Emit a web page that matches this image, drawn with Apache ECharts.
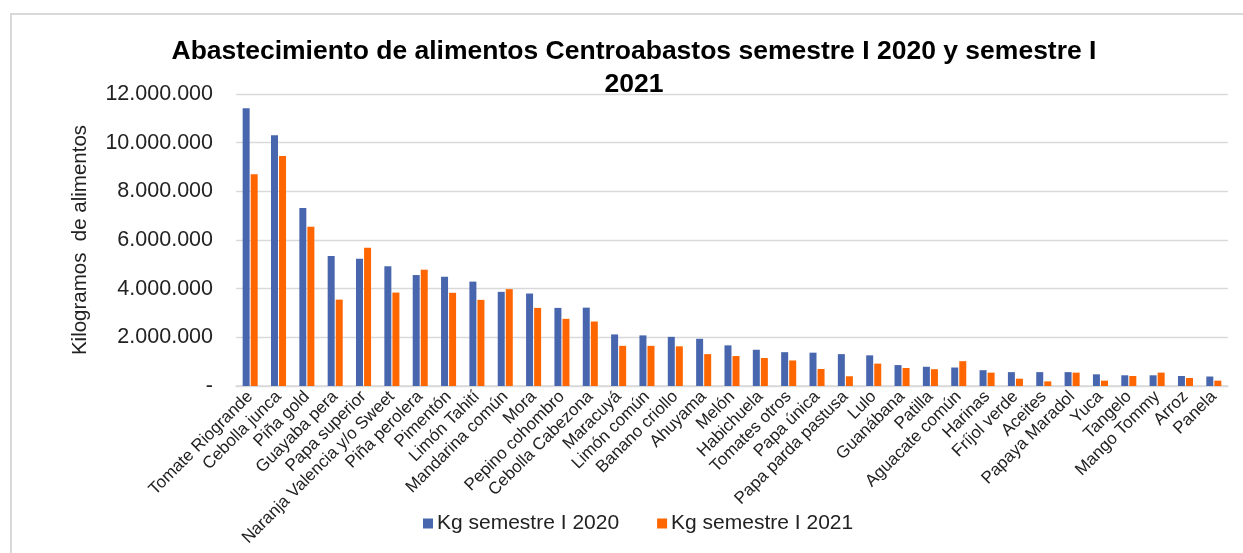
<!DOCTYPE html>
<html>
<head>
<meta charset="utf-8">
<script src="https://cdn.jsdelivr.net/npm/echarts@6/dist/echarts.min.js"></script>
<style>html,body{margin:0;padding:0;background:#fff}#c{width:1243px;height:553px}</style>
</head>
<body>
<div id="c"></div>
<script>
var categories = ["Tomate Riogrande","Cebolla junca","Piña gold","Guayaba pera","Papa superior","Naranja Valencia y/o Sweet","Piña perolera","Pimentón","Limón Tahití","Mandarina común","Mora","Pepino cohombro","Cebolla Cabezona","Maracuyá","Limón común","Banano criollo","Ahuyama","Melón","Habichuela","Tomates otros","Papa única","Papa parda pastusa","Lulo","Guanábana","Patilla","Aguacate común","Harinas","Fríjol verde","Aceites","Papaya Maradol","Yuca","Tangelo","Mango Tommy","Arroz","Panela"];
var kg2020 = [11410000,10300000,7310000,5340000,5230000,4920000,4560000,4490000,4290000,3870000,3800000,3210000,3220000,2120000,2080000,2020000,1940000,1670000,1490000,1390000,1370000,1310000,1260000,860000,790000,760000,650000,570000,570000,570000,480000,440000,440000,410000,390000];
var kg2021 = [8700000,9450000,6540000,3550000,5680000,3840000,4780000,3830000,3540000,3980000,3210000,2760000,2650000,1650000,1650000,1630000,1310000,1230000,1150000,1050000,700000,400000,920000,740000,690000,1020000,550000,300000,190000,550000,220000,410000,550000,330000,220000];
var yTicks = {min: 0, max: 12000000, interval: 2000000};
var seriesNames = ["Kg semestre I 2020", "Kg semestre I 2021"];

function fmt(v){ if (v === 0) return '-'; return String(v).replace(/\B(?=(\d{3})+(?!\d))/g, '.'); }

var chart = echarts.init(document.getElementById('c'));
chart.setOption({
  backgroundColor: '#fff',
  animation: false,
  textStyle: {fontFamily: 'Liberation Sans, Arial, sans-serif'},
  title: {
    text: 'Abastecimiento de alimentos Centroabastos semestre I 2020 y semestre I\n2021',
    left: 634, top: 35,
    padding: 0,
    textAlign: 'center',
    textStyle: {fontSize: 26.5, fontWeight: 'bold', color: '#000', lineHeight: 33, fontFamily: 'Liberation Sans, Arial, sans-serif'}
  },
  graphic: [{
    type: 'rect', shape: {x: 11, y: 14, width: 1400, height: 700},
    style: {fill: 'none', stroke: '#d9d9d9', lineWidth: 2}, silent: true
  }],
  legend: {
    data: seriesNames, bottom: 19, left: 423,
    padding: 0,
    icon: 'rect', itemWidth: 10, itemHeight: 10, itemGap: 38,
    textStyle: {fontSize: 21, color: '#222', padding: [0, 0, 0, -1]}
  },
  grid: {left: 236, right: 15, top: 94, bottom: 167, containLabel: false},
  xAxis: {
    type: 'category', data: categories,
    axisLine: {lineStyle: {color: '#d9d9d9', width: 1.5}},
    axisTick: {show: false},
    axisLabel: {interval: 0, rotate: 45, fontSize: 17, color: '#222', margin: 8}
  },
  yAxis: {
    type: 'value', min: yTicks.min, max: yTicks.max, interval: yTicks.interval,
    name: 'Kilogramos  de alimentos', nameLocation: 'middle', nameGap: 145,
    nameTextStyle: {fontSize: 20.5, color: '#222'},
    axisLine: {show: false}, axisTick: {show: false},
    axisLabel: {formatter: fmt, fontSize: 21.5, color: '#222', margin: 23},
    splitLine: {lineStyle: {color: '#d9d9d9', width: 1.3}}
  },
  series: [
    {name: seriesNames[0], type: 'bar', data: kg2020, barWidth: 7, barGap: '15%', itemStyle: {color: '#4866ad'}},
    {name: seriesNames[1], type: 'bar', data: kg2021, barWidth: 7, barGap: '15%', itemStyle: {color: '#ff6600'}}
  ]
});
</script>
</body>
</html>
